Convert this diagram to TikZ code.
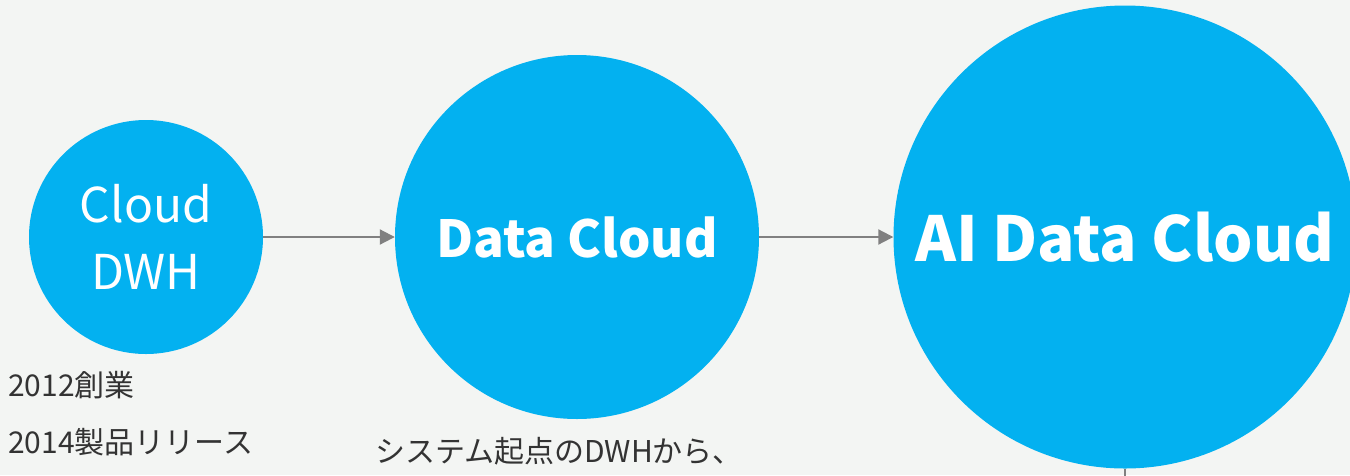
\documentclass[tikz,border=0pt]{standalone}
\usepackage{fontspec}
\setmainfont{Noto Sans CJK JP}
\usepackage{tikz}
\usetikzlibrary{positioning,arrows.meta}

\definecolor{sfblue}{HTML}{03B1F0}
\definecolor{bggray}{HTML}{F3F5F3}
\definecolor{txtgray}{HTML}{333333}
\definecolor{arrgray}{HTML}{808080}

\begin{document}
\begin{tikzpicture}
                    [x=1pt, y=-1pt,
                    stage/.style={circle,
                        fill=sfblue, text=white,
                        inner sep=0pt, align=center},
                    note/.style={anchor=base west,
                        text=txtgray, inner sep=0pt,
                        font=\fontsize{30}{34}\selectfont},
                    flow/.style={draw=arrgray, line width=2pt,
                        -{Triangle[length=15pt,width=15pt]}}]

                    \fill[bggray] (0,0) rectangle (1350,475);
                    \clip (0,0) rectangle (1350,475);

                    \node[stage, minimum size=234pt,
                        font=\fontsize{48}{67}\selectfont] (dwh)
                        at (146,237) {Cloud\\DWH};
                    \node[stage, minimum size=364pt,
                        font=\fontsize{51}{56}\selectfont\bfseries] (dc)
                        at (577,237) {Data Cloud};
                    \node[stage, minimum size=463pt,
                        font=\fontsize{62}{66}\selectfont\bfseries] (aidc)
                        at (1125,237) {AI Data Cloud};

                    \draw[flow] (dwh) -- (dc);
                    \draw[flow] (dc) -- (aidc);
                    \coordinate (down) at (1125,490);
                    \draw[arrgray, line width=2pt] (aidc.south) -- (down);

                    \node[note] (found) at (8,396) {2012創業};
                    \node[note] (release) at (8,453) {2014製品リリース};
                    \node[note] (origin) at (375,462) {システム起点のDWHから、};
                \end{tikzpicture}
\end{document}
